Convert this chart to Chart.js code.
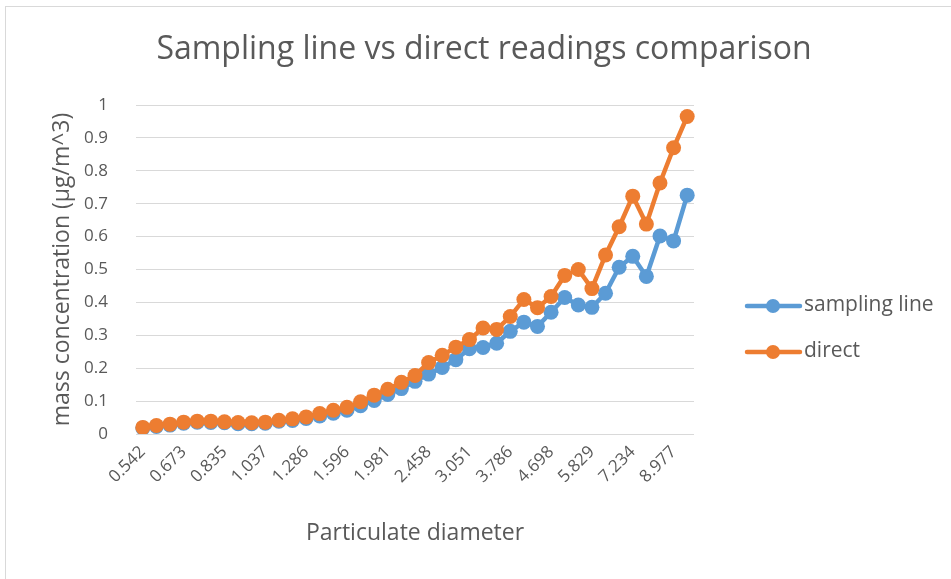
<!DOCTYPE html>
<html>
<head>
<meta charset="utf-8">
<script src="https://cdn.jsdelivr.net/npm/chart.js@4"></script>
<style>
  html, body { margin: 0; padding: 0; background: #ffffff; }
  #wrap { position: relative; width: 951px; height: 579px; overflow: hidden; }
  #frame { position: absolute; left: 5px; top: 6px; width: 1000px; height: 700px; border: 1px solid #d9d9d9; box-sizing: border-box; }
  #c { position: absolute; left: 0; top: 0; }
</style>
</head>
<body>
<div id="wrap">
  <div id="frame"></div>
  <canvas id="c" width="951" height="579"></canvas>
</div>
<script>
const categories = ["0.542","0.583","0.626","0.673","0.723","0.777","0.835","0.898","0.965","1.037","1.114","1.197","1.286","1.382","1.486","1.596","1.715","1.843","1.981","2.129","2.288","2.458","2.642","2.839","3.051","3.278","3.523","3.786","4.068","4.371","4.698","5.048","5.425","5.829","6.264","6.732","7.234","7.774","8.354","8.977","9.647"];
const samplingLine = [0.018,0.023,0.027,0.033,0.036,0.035,0.034,0.031,0.031,0.033,0.039,0.041,0.047,0.055,0.063,0.072,0.086,0.102,0.120,0.138,0.160,0.182,0.202,0.226,0.259,0.263,0.276,0.312,0.340,0.327,0.370,0.415,0.392,0.385,0.428,0.507,0.540,0.479,0.602,0.587,0.726];
const direct = [0.020,0.026,0.030,0.036,0.039,0.039,0.037,0.035,0.034,0.036,0.042,0.046,0.052,0.062,0.072,0.081,0.098,0.118,0.136,0.157,0.178,0.217,0.239,0.264,0.287,0.322,0.318,0.357,0.409,0.384,0.418,0.482,0.500,0.442,0.544,0.630,0.723,0.638,0.763,0.870,0.965];
const seriesNames = ["sampling line", "direct"];
const titleText = "Sampling line vs direct readings comparison";
const xTitle = "Particulate diameter";
const yTitle = "mass concentration (\u00b5g/m^3)";

const BLUE = "#5B9BD5", ORANGE = "#ED7D31", TXT = "#595959", GRID = "#d9d9d9";
const FONT = "'Open Sans', 'DejaVu Sans', sans-serif";

const decorPlugin = {
  id: "decor",
  afterDraw(chart) {
    const ctx = chart.ctx;
    ctx.save();
    // chart title
    ctx.fillStyle = TXT;
    ctx.font = "32px " + FONT;
    ctx.textAlign = "center";
    ctx.textBaseline = "middle";
    ctx.fillText(titleText, 484, 50);
    // legend
    const items = [
      { label: seriesNames[0], color: BLUE, y: 306 },
      { label: seriesNames[1], color: ORANGE, y: 352 }
    ];
    items.forEach(it => {
      ctx.strokeStyle = it.color;
      ctx.lineWidth = 4.5;
      ctx.lineCap = "round";
      ctx.beginPath();
      ctx.moveTo(747, it.y);
      ctx.lineTo(800, it.y);
      ctx.stroke();
      ctx.fillStyle = it.color;
      ctx.beginPath();
      ctx.arc(773, it.y, 7, 0, Math.PI * 2);
      ctx.fill();
      ctx.fillStyle = TXT;
      ctx.font = "21px " + FONT;
      ctx.textAlign = "left";
      ctx.textBaseline = "middle";
      ctx.fillText(it.label, 804, it.y - 1);
    });
    ctx.restore();
  }
};

new Chart(document.getElementById("c"), {
  type: "line",
  data: {
    labels: categories,
    datasets: [
      { label: seriesNames[0], data: samplingLine, borderColor: BLUE, backgroundColor: BLUE,
        pointBackgroundColor: BLUE, pointBorderColor: BLUE, borderWidth: 4.5, pointRadius: 7.5,
        pointBorderWidth: 0, tension: 0, order: 1 },
      { label: seriesNames[1], data: direct, borderColor: ORANGE, backgroundColor: ORANGE,
        pointBackgroundColor: ORANGE, pointBorderColor: ORANGE, borderWidth: 4.5, pointRadius: 7.5,
        pointBorderWidth: 0, tension: 0, order: 0 }
    ]
  },
  options: {
    responsive: false,
    animation: false,
    devicePixelRatio: 1,
    layout: { padding: { left: 49, right: 257, top: 105, bottom: 32 } },
    plugins: {
      legend: { display: false },
      tooltip: { enabled: false },
      title: { display: false }
    },
    scales: {
      x: {
        type: "category",
        offset: true,
        grid: { display: false, drawTicks: false },
        border: { display: false },
        ticks: {
          autoSkip: false, minRotation: 45, maxRotation: 45, padding: 8,
          color: TXT, font: { family: FONT, size: 17 },
          callback: function(value, index) { return index % 3 === 0 ? categories[index] : ""; }
        },
        title: { display: true, text: xTitle, color: TXT, padding: 0,
                 font: { family: FONT, size: 23 } },
        afterFit(scale) { scale.height = 113; }
      },
      y: {
        min: 0, max: 1,
        grid: { color: GRID, lineWidth: 1, drawTicks: false },
        border: { display: false },
        ticks: { stepSize: 0.1, padding: 28, color: TXT, font: { family: FONT, size: 17 },
                 callback: v => Math.round(v * 10) / 10 },
        title: { display: true, text: yTitle, color: TXT, padding: 0,
                 font: { family: FONT, size: 23 } },
        afterFit(scale) { scale.width = 87; }
      }
    }
  },
  plugins: [decorPlugin]
});
</script>
</body>
</html>
